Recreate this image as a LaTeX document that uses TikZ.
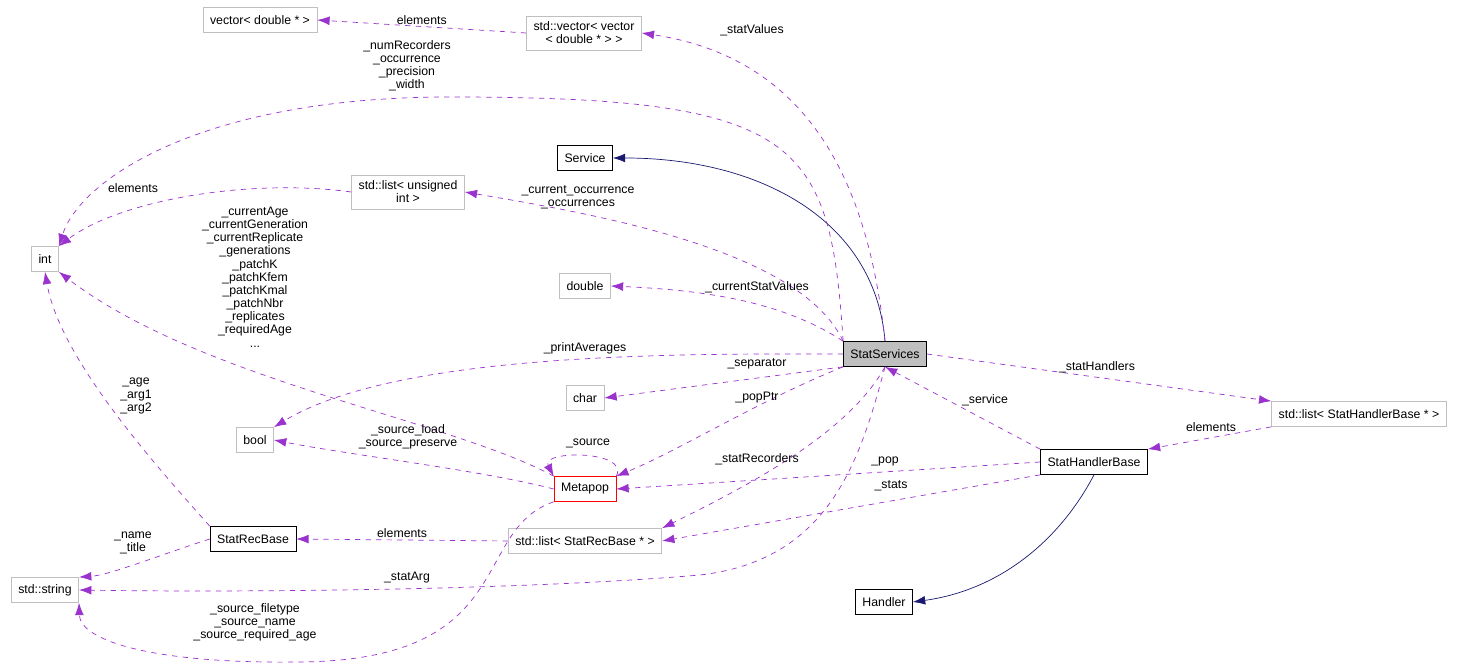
\documentclass[tikz,border=0pt]{standalone}
\usepackage{fontspec}
\setmainfont{Liberation Sans}
\usetikzlibrary{arrows.meta}
\definecolor{depPurple}{HTML}{9A32CD}
\definecolor{inhNavy}{HTML}{191970}
\definecolor{boxGray}{HTML}{BFBFBF}

\tikzset{
  cls/.style={draw=boxGray, fill=white, inner xsep=4pt, minimum height=0.5cm, align=center, font=\fontsize{7}{7.5}\selectfont},
  doc/.style={cls, draw=black},
  dep/.style={draw=depPurple, dashed, -{Latex[length=7pt,width=5pt]}},
  inh/.style={draw=inhNavy, -{Latex[length=7pt,width=5pt]}},
  lbl/.style={font=\fontsize{7}{7.5}\selectfont, align=center, inner sep=1pt}
}

\begin{document}
\begin{tikzpicture}[x=0.02cm, y=-0.02cm]
            \useasboundingbox (0,0) rectangle (1464,671);

            \node[cls] (vdbl) at (260,20) {vector< double * >};
            \node[cls] (svec) at (584,33) {std::vector< vector\\< double * > >};
            \node[doc] (serv) at (585,158) {Service};
            \node[cls] (listu) at (408,192) {std::list< unsigned\\int >};
            \node[cls] (int) at (45,259) {int};
            \node[cls] (dbl) at (585,286) {double};
            \node[doc, fill=boxGray] (ss) at (885,354) {StatServices};
            \node[cls] (chr) at (585,398) {char};
            \node[cls] (bool) at (255,440) {bool};
            \node[cls] (listshb) at (1359,414) {std::list< StatHandlerBase * >};
            \node[doc] (shb) at (1094,462) {StatHandlerBase};
            \node[doc, draw=red] (meta) at (585,489) {Metapop};
            \node[doc] (srb) at (253,539) {StatRecBase};
            \node[cls] (listsrb) at (585,541) {std::list< StatRecBase * >};
            \node[cls] (str) at (45,590) {std::string};
            \node[doc] (hdl) at (884,602) {Handler};

            % inheritance
            \draw[inh] (ss.north) .. controls (875,220) and (760,158) .. (serv.east);
            \draw[inh] (shb.south) .. controls (1060,540) and (1000,590) .. (hdl.east);

            % StatServices members
            \draw[dep] (svec.west) -- (vdbl.east) node[lbl, midway, above] {elements};
            \draw[dep] (ss.north) .. controls (870,200) and (820,60) .. (svec.east);
            \node[lbl] (lsv) at (752,30) {\_statValues};
            \draw[dep] (ss.north west) .. controls (830,140) and (800,97) .. (450,97) .. controls (200,97) and (80,180) .. (int.north east);
            \node[lbl] (lnum) at (407,66) {\_numRecorders\\\_occurrence\\\_precision\\\_width};
            \draw[dep] (listu.west) .. controls (250,178) and (120,200) .. (int.north east);
            \node[lbl] (lel1) at (133,188) {elements};
            \draw[dep] (ss.north west) .. controls (800,250) and (600,215) .. (listu.east);
            \node[lbl] (lcur) at (578,197) {\_current\_occurrence\\\_occurrences};
            \draw[dep] (ss.north west) .. controls (780,300) and (700,290) .. (dbl.east);
            \node[lbl] (lcsv) at (757,287) {\_currentStatValues};
            \draw[dep] (ss.west) .. controls (700,354) and (400,350) .. (bool.north east);
            \node[lbl] (lpa) at (585,348) {\_printAverages};
            \draw[dep] (ss.south west) -- (chr.east);
            \node[lbl] (lsep) at (757,364) {\_separator};
            \draw[dep] (ss.south west) .. controls (760,400) and (680,450) .. (meta.north east);
            \node[lbl] (lpp) at (757,398) {\_popPtr};
            \draw[dep] (ss.south) .. controls (850,430) and (760,480) .. (listsrb.north east);
            \node[lbl] (lsr) at (757,459) {\_statRecorders};
            \draw[dep] (ss.south) .. controls (860,460) and (830,560) .. (700,575) .. controls (500,592) and (200,592) .. (str.east);
            \node[lbl] (lsa) at (407,578) {\_statArg};
            \draw[dep] (ss.east) -- (listshb.north west);
            \node[lbl] (lsh) at (1097,367) {\_statHandlers};

            % Metapop members
            \draw[dep] (meta.north west) .. controls (450,420) and (200,380) .. (int.south east);
            \node[lbl] (lmeta) at (255,277) {\_currentAge\\\_currentGeneration\\\_currentReplicate\\\_generations\\\_patchK\\\_patchKfem\\\_patchKmal\\\_patchNbr\\\_replicates\\\_requiredAge\\...};
            \draw[dep] (meta.west) .. controls (480,470) and (350,455) .. (bool.east);
            \node[lbl] (lsl) at (408,437) {\_source\_load\\\_source\_preserve};
            \draw[dep] (meta.north east) .. controls (630,450) and (540,450) .. (meta.north west);
            \node[lbl] (lsrc) at (588,443) {\_source};
            \draw[dep] (meta.south west) .. controls (470,530) and (520,660) .. (300,662) .. controls (150,664) and (80,640) .. (str.south east);
            \node[lbl] (lsft) at (255,622) {\_source\_filetype\\\_source\_name\\\_source\_required\_age};

            % StatRecBase members
            \draw[dep] (srb.north west) .. controls (160,470) and (60,360) .. (int.south);
            \node[lbl] (lage) at (136,396) {\_age\\\_arg1\\\_arg2};
            \draw[dep] (srb.west) .. controls (160,555) and (110,575) .. (str.north east);
            \node[lbl] (lnm) at (133,543) {\_name\\\_title};
            \draw[dep] (listsrb.west) -- (srb.east) node[lbl, midway, above] {elements};

            % StatHandlerBase members
            \draw[dep] (shb.north west) -- (ss.south);
            \node[lbl] (lsvc) at (985,400) {\_service};
            \draw[dep] (shb.west) -- (meta.east);
            \node[lbl] (lpop) at (885,461) {\_pop};
            \draw[dep] (shb.south west) -- (listsrb.east);
            \node[lbl] (lst) at (891,486) {\_stats};
            \draw[dep] (listshb.south west) -- (shb.north east);
            \node[lbl] (lel2) at (1211,427) {elements};
\end{tikzpicture}
\end{document}
